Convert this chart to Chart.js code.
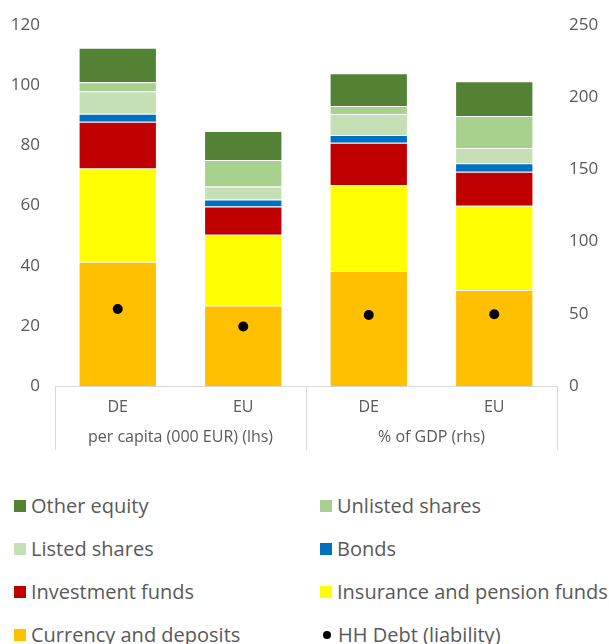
<!DOCTYPE html>
<html>
<head>
<meta charset="utf-8">
<script src="https://cdn.jsdelivr.net/npm/chart.js@4/dist/chart.umd.min.js"></script>
<style>
  body { margin: 0; background: #fff; font-family: 'Open Sans', sans-serif; }
  #wrap { position: relative; width: 609px; height: 644px; }
  #box { position: absolute; left: 0; top: 0; width: 609px; height: 470px; }
  #legend { position: absolute; left: 0; top: 484px; width: 609px; }
  .row { display: flex; height: 43px; align-items: center; }
  .item { display: flex; align-items: center; font-size: 20px; color: #595959; white-space: nowrap; }
  .item.c1 { position: absolute; left: 14px; }
  .item.c2 { position: absolute; left: 320px; }
  .sw { width: 12px; height: 12px; margin-right: 5px; }
  .dot { width: 8px; height: 8px; border-radius: 50%; background: #000; margin: 0 7px 0 3px; }
</style>
</head>
<body>
<div id="wrap">
  <div id="box"><canvas id="chart"></canvas></div>
  <div id="legend"></div>
</div>
<script>
// categories: first two on left axis (per capita), last two on right axis (% of GDP)
const categories = ['DE', 'EU', 'DE', 'EU'];
const groups = ['per capita (000 EUR) (lhs)', '% of GDP (rhs)'];

// asset values, order: DE lhs, EU lhs, DE rhs, EU rhs
const currency = [41.3, 26.8, 79.6, 66.5];
const insurance = [31.0, 23.5, 59.4, 58.4];
const investFunds = [15.5, 9.4, 29.5, 23.5];
const bonds = [2.7, 2.3, 5.3, 5.8];
const listedShares = [7.5, 4.3, 14.6, 10.6];
const unlistedShares = [3.0, 8.8, 5.5, 22.2];
const otherEquity = [11.4, 9.7, 22.6, 24.0];
const hhDebt = [25.6, 19.8, 49.2, 49.7];

const lhsTicks = [0, 20, 40, 60, 80, 100, 120];
const rhsTicks = [0, 50, 100, 150, 200, 250];

// stacked bottom to top
const series = [
    { name: 'Currency and deposits', data: currency, color: '#FFC000' },
    { name: 'Insurance and pension funds', data: insurance, color: '#FFFF00' },
    { name: 'Investment funds', data: investFunds, color: '#C00000' },
    { name: 'Bonds', data: bonds, color: '#0070C0' },
    { name: 'Listed shares', data: listedShares, color: '#C5E0B4' },
    { name: 'Unlisted shares', data: unlistedShares, color: '#A9D18E' },
    { name: 'Other equity', data: otherEquity, color: '#548235' }
];

const grey = '#595959';
const lineGrey = '#d9d9d9';

const datasets = [];
series.forEach(function(s) {
    datasets.push({
        type: 'bar', label: s.name, yAxisID: 'y',
        data: [s.data[0], s.data[1], null, null],
        backgroundColor: s.color, borderColor: 'rgba(255,255,255,0.35)', borderWidth: 1,
        order: 2
    });
    datasets.push({
        type: 'bar', label: s.name, yAxisID: 'y2',
        data: [null, null, s.data[2], s.data[3]],
        backgroundColor: s.color, borderColor: 'rgba(255,255,255,0.35)', borderWidth: 1,
        order: 2
    });
});
datasets.push({
    type: 'line', label: 'HH Debt (liability)', yAxisID: 'y',
    data: [hhDebt[0], hhDebt[1], null, null],
    showLine: false, pointRadius: 5, pointBackgroundColor: '#000', pointBorderWidth: 0, order: 1
});
datasets.push({
    type: 'line', label: 'HH Debt (liability)', yAxisID: 'y2',
    data: [null, null, hhDebt[2], hhDebt[3]],
    showLine: false, pointRadius: 5, pointBackgroundColor: '#000', pointBorderWidth: 0, order: 1
});

// separators of the two-level category axis
const groupLines = {
    id: 'groupLines',
    afterDraw: function(chart) {
        const ctx = chart.ctx;
        const area = chart.chartArea;
        const x = chart.scales.x;
        const mid = (x.getPixelForValue(1) + x.getPixelForValue(2)) / 2;
        const bottom = chart.scales.x2.bottom;
        ctx.save();
        ctx.strokeStyle = lineGrey;
        ctx.lineWidth = 1;
        [area.left, mid, area.right].forEach(function(px) {
            ctx.beginPath();
            ctx.moveTo(Math.round(px) + 0.5, area.bottom);
            ctx.lineTo(Math.round(px) + 0.5, bottom);
            ctx.stroke();
        });
        ctx.restore();
    }
};

const tickFont = { family: 'Open Sans', size: 17 };
const catFont = { family: 'Open Sans', size: 16 };

new Chart(document.getElementById('chart'), {
    data: { labels: categories, datasets: datasets },
    plugins: [groupLines],
    options: {
        responsive: true,
        maintainAspectRatio: false,
        animation: false,
        layout: { padding: { top: 25, left: 0, right: 0, bottom: 20 } },
        datasets: { bar: { grouped: false, barPercentage: 0.624, categoryPercentage: 1 } },
        plugins: { legend: { display: false }, tooltip: { enabled: false } },
        scales: {
            x: {
                stacked: true,
                grid: { display: false, drawTicks: false },
                border: { display: true, color: lineGrey },
                ticks: { color: grey, font: catFont, padding: 12 },
                afterFit: function(s) { s.height = 36; }
            },
            x2: {
                type: 'category', labels: groups, position: 'bottom', offset: true,
                grid: { display: false, drawTicks: false },
                border: { display: false },
                ticks: { color: grey, font: catFont, padding: 6 },
                afterFit: function(s) { s.height = 28; }
            },
            y: {
                stacked: true, position: 'left',
                min: lhsTicks[0], max: lhsTicks[lhsTicks.length - 1],
                grid: { display: false }, border: { display: false },
                afterBuildTicks: function(s) { s.ticks = lhsTicks.map(function(v) { return { value: v }; }); },
                ticks: { color: grey, font: tickFont, padding: 7 },
                afterFit: function(s) { s.width = 55; }
            },
            y2: {
                stacked: true, position: 'right',
                min: rhsTicks[0], max: rhsTicks[rhsTicks.length - 1],
                grid: { display: false }, border: { display: false },
                afterBuildTicks: function(s) { s.ticks = rhsTicks.map(function(v) { return { value: v }; }); },
                ticks: { color: grey, font: tickFont, padding: 4 },
                afterFit: function(s) { s.width = 52; }
            }
        }
    }
});

// legend: two columns, order as in the figure
const legendRows = [
    ['Other equity', 'Unlisted shares'],
    ['Listed shares', 'Bonds'],
    ['Investment funds', 'Insurance and pension funds'],
    ['Currency and deposits', 'HH Debt (liability)']
];
const legendEl = document.getElementById('legend');
legendRows.forEach(function(pair) {
    const row = document.createElement('div');
    row.className = 'row';
    pair.forEach(function(name, i) {
        const item = document.createElement('div');
        item.className = 'item ' + (i === 0 ? 'c1' : 'c2');
        const s = series.find(function(d) { return d.name === name; });
        const mark = document.createElement('span');
        if (s) {
            mark.className = 'sw';
            mark.style.background = s.color;
        } else {
            mark.className = 'dot';
        }
        item.appendChild(mark);
        item.appendChild(document.createTextNode(name));
        row.appendChild(item);
    });
    legendEl.appendChild(row);
});
</script>
</body>
</html>
